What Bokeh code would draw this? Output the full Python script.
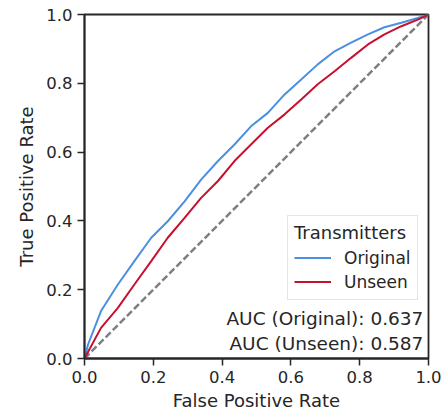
from bokeh.plotting import figure
from bokeh.models import Legend, LegendItem, Label, FixedTicker, Range1d
from bokeh.embed import file_html
from bokeh.resources import INLINE

# ROC curve data
fpr_original = [0.0, 0.01, 0.048, 0.097, 0.145, 0.194, 0.242, 0.291, 0.339, 0.388,
                0.436, 0.484, 0.533, 0.581, 0.630, 0.678, 0.727, 0.775, 0.824,
                0.872, 0.921, 0.969, 1.0]
tpr_original = [0.0, 0.04, 0.138, 0.215, 0.283, 0.351, 0.399, 0.457, 0.520, 0.574,
                0.622, 0.675, 0.714, 0.767, 0.811, 0.855, 0.893, 0.918, 0.942,
                0.963, 0.976, 0.990, 1.0]

fpr_unseen = [0.0, 0.048, 0.097, 0.145, 0.194, 0.242, 0.291, 0.339, 0.388, 0.436,
              0.484, 0.533, 0.581, 0.630, 0.678, 0.727, 0.775, 0.824, 0.872,
              0.921, 0.969, 1.0]
tpr_unseen = [0.0, 0.089, 0.147, 0.215, 0.283, 0.351, 0.409, 0.467, 0.516, 0.574,
              0.622, 0.671, 0.709, 0.753, 0.797, 0.835, 0.874, 0.913, 0.942,
              0.966, 0.985, 1.0]

chance_x = [0.0, 1.0]
chance_y = [0.0, 1.0]

tick_values = [0.0, 0.2, 0.4, 0.6, 0.8, 1.0]
series_names = ["Original", "Unseen"]
auc_texts = ["AUC (Original): 0.637", "AUC (Unseen): 0.587"]
legend_title = "Transmitters"

FONT = "DejaVu Sans"
TXT = "#262626"
BLUE = "#4A90E2"
RED = "#C8102E"

p = figure(width=445, height=417, output_backend="svg", toolbar_location=None,
           x_range=Range1d(0, 1), y_range=Range1d(0, 1),
           min_border_left=84, min_border_right=17, min_border_top=14, min_border_bottom=59)

p.grid.visible = False
p.outline_line_color = TXT
p.outline_line_width = 1.8
p.background_fill_color = "white"
p.border_fill_color = "white"

for ax in (p.xaxis[0], p.yaxis[0]):
    ax.ticker = FixedTicker(ticks=tick_values)
    ax.minor_tick_line_color = None
    ax.major_tick_in = 0
    ax.major_tick_out = 7
    ax.major_tick_line_width = 1.5
    ax.major_tick_line_color = TXT
    ax.axis_line_color = TXT
    ax.axis_line_width = 1.8
    ax.major_label_text_font = FONT
    ax.major_label_text_font_size = "16.5px"
    ax.major_label_text_color = TXT
    ax.major_label_standoff = 5
    ax.axis_label_text_font = FONT
    ax.axis_label_text_font_size = "18px"
    ax.axis_label_text_font_style = "normal"
    ax.axis_label_text_color = TXT
    ax.axis_label_standoff = 4

p.yaxis[0].axis_label_standoff = 6
p.xaxis.axis_label = "False Positive Rate"
p.yaxis.axis_label = "True Positive Rate"
p.xaxis[0].major_label_overrides = {v: f"{v:.1f}" for v in tick_values}
p.yaxis[0].major_label_overrides = {v: f"{v:.1f}" for v in tick_values}

p.line(chance_x, chance_y, line_color="#7f7f7f", line_width=2.5, line_dash="7 3")
r_orig = p.line(fpr_original, tpr_original, line_color=BLUE, line_width=2)
r_uns = p.line(fpr_unseen, tpr_unseen, line_color=RED, line_width=2)

legend = Legend(items=[LegendItem(label=series_names[0], renderers=[r_orig]),
                       LegendItem(label=series_names[1], renderers=[r_uns])],
                location=(203, 58), title=legend_title)
legend.title_text_font = FONT
legend.title_text_font_size = "18px"
legend.title_text_font_style = "normal"
legend.title_text_color = TXT
legend.title_standoff = 3
legend.label_text_font = FONT
legend.label_text_font_size = "17px"
legend.label_text_color = TXT
legend.glyph_width = 37
legend.glyph_height = 23
legend.label_height = 23
legend.label_standoff = 13
legend.spacing = 1
legend.padding = 6
legend.margin = 0
legend.border_line_color = "#cccccc"
legend.border_line_width = 1
legend.background_fill_color = "white"
legend.background_fill_alpha = 0.8
p.add_layout(legend, "center")

for txt, yv in zip(auc_texts, [0.116, 0.043]):
    p.add_layout(Label(x=0.985, y=yv, text=txt, text_align="right",
                       text_baseline="alphabetic", text_font=FONT,
                       text_font_size="18.5px", text_color=TXT))

open("out.html", "w").write(file_html(p, INLINE))
